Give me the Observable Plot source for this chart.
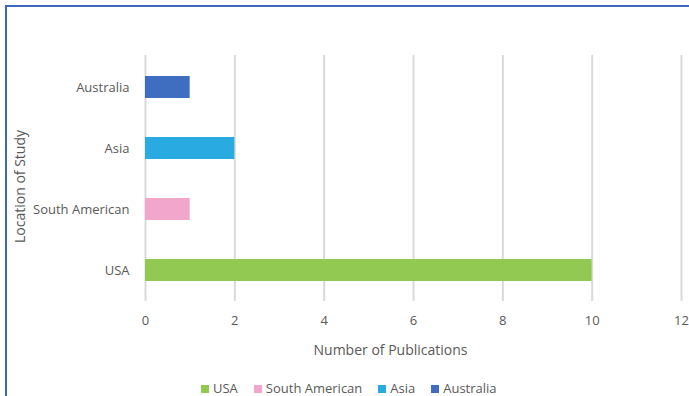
<!DOCTYPE html>
<html>
<head>
<meta charset="utf-8">
<script src="https://cdn.jsdelivr.net/npm/d3@7"></script>
<script src="https://cdn.jsdelivr.net/npm/@observablehq/plot@0.6"></script>
<style>
  html, body { margin: 0; padding: 0; background: #fff; overflow: hidden; }
  #wrap { position: relative; width: 689px; height: 396px; overflow: hidden; font-family: "Open Sans", "Liberation Sans", sans-serif; color: #595959; }
  #frame { position: absolute; left: 5px; top: 5px; width: 700px; height: 400px; border-left: 2px solid #3d66bd; border-top: 2px solid #3d66bd; box-sizing: border-box; }
  #chart { position: absolute; left: 0; top: 0; }
  #legend { position: absolute; top: 381px; left: 201px; display: flex; align-items: center; font-size: 13px; line-height: 15px; white-space: nowrap; }
  #legend .item { display: flex; align-items: center; margin-right: 16px; }
  #legend .sw { width: 8px; height: 8px; margin-right: 4px; }
</style>
</head>
<body>
<div id="wrap">
  <div id="frame"></div>
  <div id="chart"></div>
  <div id="legend"></div>
</div>
<script>
const locations = ["USA", "South American", "Asia", "Australia"];
const publications = [10, 1, 2, 1];
const colors = ["#92c953", "#f0a7cb", "#29abe2", "#3f6ec0"];
const xTicks = [0, 2, 4, 6, 8, 10, 12];

const data = locations.map((loc, i) => ({location: loc, value: publications[i]}));

const chart = Plot.plot({
  width: 689,
  height: 372,
  marginTop: 55,
  marginBottom: 71,
  marginLeft: 145,
  marginRight: 8,
  style: {fontFamily: "'Open Sans', 'Liberation Sans', sans-serif", fontSize: "13px", color: "#595959", background: "transparent"},
  x: {domain: [0, 12], ticks: xTicks, label: null},
  y: {domain: locations.slice().reverse(), paddingInner: 0.64, paddingOuter: 0.32, label: null},
  color: {domain: locations, range: colors},
  marks: [
    Plot.ruleX(xTicks, {stroke: "#d9d9d9", strokeWidth: 2}),
    Plot.barX(data, {y: "location", x: "value", fill: "location"}),
    Plot.axisX({ticks: xTicks, tickSize: 0, tickPadding: 14, fontSize: 13, fill: "#595959"}),
    Plot.axisY({tickSize: 0, tickPadding: 16, fontSize: 13, fill: "#595959"}),
    Plot.text(["Number of Publications"], {frameAnchor: "bottom", dx: -23, dy: 53, fontSize: 14, fill: "#595959"}),
    Plot.text(["Location of Study"], {frameAnchor: "left", textAnchor: "middle", rotate: -90, dx: -125, dy: 8, fontSize: 14, fill: "#595959"})
  ]
});
document.getElementById("chart").appendChild(chart);

const legend = document.getElementById("legend");
locations.forEach((loc, i) => {
  const item = document.createElement("div");
  item.className = "item";
  const sw = document.createElement("div");
  sw.className = "sw";
  sw.style.background = colors[i];
  const label = document.createElement("span");
  label.textContent = loc;
  item.appendChild(sw);
  item.appendChild(label);
  legend.appendChild(item);
});
</script>
</body>
</html>
